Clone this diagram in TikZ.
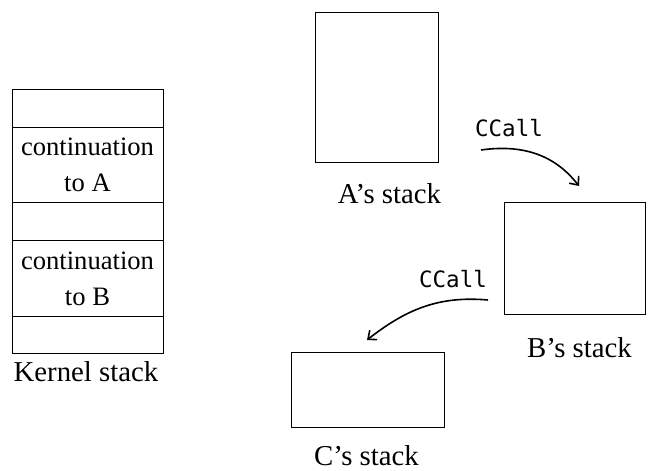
\documentclass[tikz,border=0pt]{standalone}
\usepackage{fontspec}
\setmainfont{Liberation Serif}
\setmonofont{DejaVu Sans Mono}
\usetikzlibrary{arrows.meta}
\begin{document}
\begin{tikzpicture}[x=1pt,y=1pt,
  cell/.style={draw,line width=1pt,minimum width=151pt,anchor=north,inner sep=0pt,align=center,
    font=\fontsize{26.6}{36}\selectfont},
  stackbox/.style={draw,line width=1pt,inner sep=0pt},
  lbl/.style={font=\fontsize{28.8}{32}\selectfont,inner sep=0pt,anchor=base},
  call/.style={font=\ttfamily\fontsize{22.5}{26}\selectfont,inner sep=0pt,anchor=base},
  arr/.style={line width=1.6pt,-{Straight Barb[length=7pt,width=12pt]}}]
\useasboundingbox (0,0) rectangle (649,471);
% Kernel stack
\node[cell,minimum height=38pt] (k1) at (87.5,382) {};
\node[cell,minimum height=75pt] (k2) at (87.5,344) {continuation\\to A};
\node[cell,minimum height=38pt] (k3) at (87.5,269) {};
\node[cell,minimum height=76pt] (k4) at (87.5,231) {continuation\\to B};
\node[cell,minimum height=37pt] (k5) at (87.5,155) {};
\node[lbl] (kl) at (86,89) {Kernel stack};
% A, B, C stacks
\node[stackbox,minimum width=123pt,minimum height=150pt] (A) at (376.5,383) {};
\node[lbl] (al) at (389.5,267) {A’s stack};
\node[stackbox,minimum width=141pt,minimum height=112pt] (B) at (574.5,212) {};
\node[lbl] (bl) at (579.5,113) {B’s stack};
\node[stackbox,minimum width=153pt,minimum height=75pt] (C) at (367.5,80.5) {};
\node[lbl] (cl) at (366.5,5.5) {C’s stack};
% calls
\node[call] (c1) at (509,334) {CCall};
\node[call] (c2) at (453,183) {CCall};
\coordinate (s1) at (481,321);
\coordinate (e1) at (579,285);
\coordinate (s2) at (488,171);
\coordinate (e2) at (367,131);
\draw[arr] (s1) to[out=8,in=128] (e1);
\draw[arr] (s2) to[out=175,in=38] (e2);
\end{tikzpicture}
\end{document}
